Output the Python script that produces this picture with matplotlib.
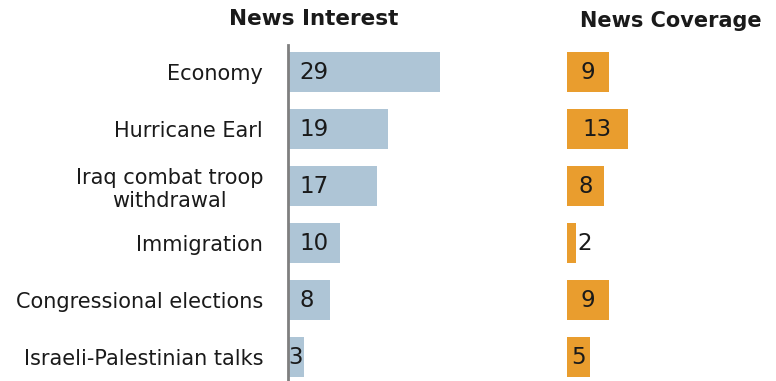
import matplotlib
matplotlib.use("Agg")
from matplotlib import pyplot as plt

# data
topics = ["Economy", "Hurricane Earl", "Iraq combat troop\nwithdrawal",
          "Immigration", "Congressional elections", "Israeli-Palestinian talks"]
interest = [29, 19, 17, 10, 8, 3]
coverage = [9, 13, 8, 2, 9, 5]

blue = "#aec5d6"
orange = "#e99d2e"
txt = "#1a1a1a"

W, H = 776, 381
fig = plt.figure(figsize=(W / 100, H / 100), dpi=100)

# left panel: news interest
ax1 = fig.add_axes([288 / W, 0, 200 / W, 336 / H])
ypos = list(range(len(topics)))
ax1.barh(ypos, interest, height=0.71, color=blue)
ax1.set_xlim(0, 200 / 5.24)
ax1.set_ylim(5.42, -0.474)
ax1.set_yticks(ypos)
ax1.set_yticklabels(topics, fontsize=15, color=txt, ha="right", multialignment="center",
                    linespacing=1.2)
ax1.tick_params(axis="y", length=0, pad=18)
ax1.set_xticks([])
for s in ["top", "right", "bottom"]:
    ax1.spines[s].set_visible(False)
ax1.spines["left"].set_color("#7f7f7f")
ax1.spines["left"].set_linewidth(2)
for y, v in zip(ypos, interest):
    x = 2.2 if v > 5 else 0.05
    ax1.text(x, y, str(v), va="center", ha="left", fontsize=16.5, color=txt)
fig.text(314 / W, 1 - 19 / H, "News Interest", fontsize=15.5, fontweight="bold",
         ha="center", va="center", color=txt)

# right panel: news coverage
ax2 = fig.add_axes([567 / W, 0, 150 / W, 336 / H])
ax2.barh(ypos, coverage, height=0.71, color=orange)
ax2.set_xlim(0, 150 / 4.67)
ax2.set_ylim(5.42, -0.474)
ax2.set_xticks([])
ax2.set_yticks([])
for s in ax2.spines.values():
    s.set_visible(False)
for y, v in zip(ypos, coverage):
    if v < 4:
        ax2.text(v + 0.3, y, str(v), va="center", ha="left", fontsize=16.5, color=txt)
    else:
        ax2.text(v / 2, y, str(v), va="center", ha="center", fontsize=16.5, color=txt)
fig.text(671 / W, 1 - 21 / H, "News Coverage", fontsize=15, fontweight="bold",
         ha="center", va="center", color=txt)

fig.savefig("out.png", dpi=100)
